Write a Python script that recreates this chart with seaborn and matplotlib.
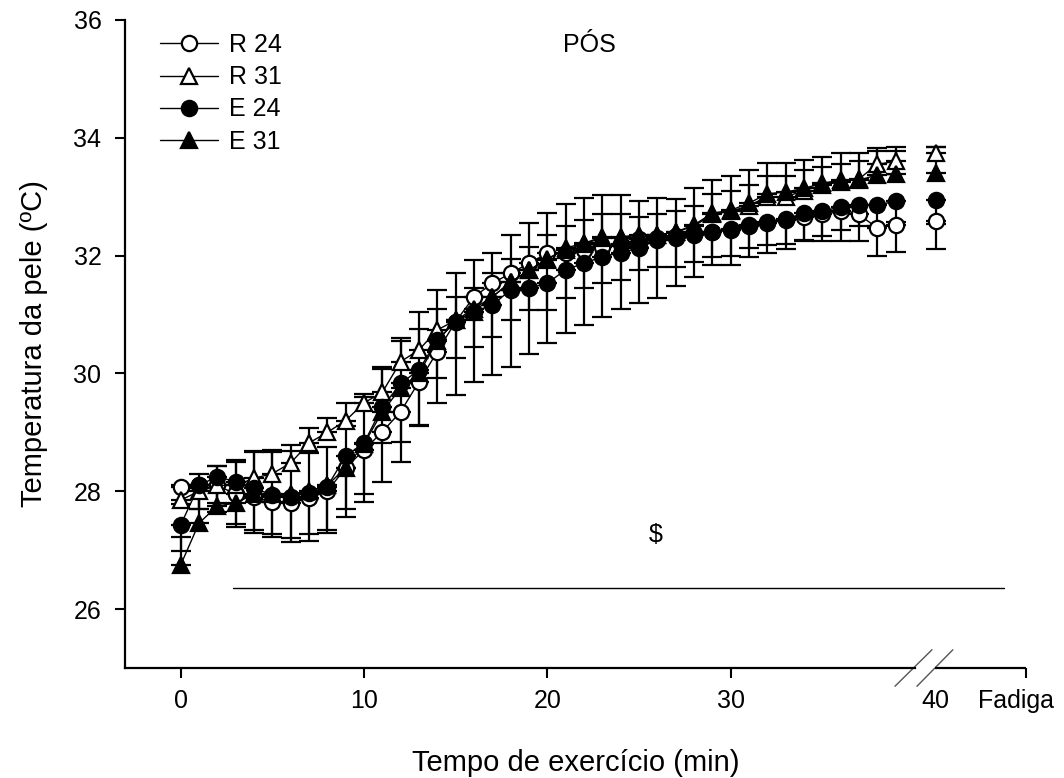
import numpy as np
import pandas as pd
import matplotlib
matplotlib.use("Agg")
import matplotlib.pyplot as plt
import matplotlib.transforms as mtransforms
import seaborn as sns

# ---------------- data ----------------
minutes = list(range(40))

r24 = [28.08, 28.10, 28.10, 27.95, 27.90, 27.82, 27.80, 27.88, 28.00, 28.40,
       28.70, 29.01, 29.35, 29.86, 30.37, 30.88, 31.30, 31.53, 31.70, 31.87,
       32.04, 32.05, 32.10, 32.15, 32.20, 32.28, 32.30, 32.33, 32.38, 32.40,
       32.45, 32.50, 32.55, 32.60, 32.65, 32.70, 32.75, 32.70, 32.47, 32.52]
r24_err_down = [0.30, 0.40, 0.45, 0.50, 0.55, 0.55, 0.60, 0.60, 0.65, 0.70,
                0.75, 0.85, 0.85, 0.75, 0.45, 0.62, 0.85, 0.91, 0.79, 0.79,
                0.96, 0.77, 0.65, 0.62, 0.62, 0.52, 0.50, 0.52, 0.48, 0.42,
                0.45, 0.37, 0.37, 0.40, 0.40, 0.45, 0.50, 0.45, 0.48, 0.46]

r31 = [27.85, 28.00, 28.10, 28.10, 28.22, 28.30, 28.48, 28.82, 29.00, 29.20,
       29.50, 29.68, 30.20, 30.40, 30.74, 30.90, 31.05, 31.30, 31.55, 31.75,
       31.95, 32.10, 32.20, 32.30, 32.30, 32.30, 32.35, 32.40, 32.50, 32.70,
       32.75, 32.85, 33.00, 33.00, 33.10, 33.20, 33.25, 33.30, 33.55, 33.60]
r31_err_up = [0.25, 0.30, 0.33, 0.40, 0.45, 0.40, 0.30, 0.25, 0.25, 0.30,
              0.15, 0.40, 0.35, 0.35, 0.35, 0.40, 0.40, 0.40, 0.40, 0.40,
              0.40, 0.40, 0.40, 0.40, 0.40, 0.35, 0.35, 0.35, 0.35, 0.35,
              0.35, 0.35, 0.35, 0.35, 0.35, 0.30, 0.30, 0.30, 0.28, 0.25]

e24 = [27.43, 28.10, 28.25, 28.16, 28.05, 27.94, 27.91, 27.97, 28.08, 28.60,
       28.82, 29.43, 29.83, 30.06, 30.57, 30.88, 31.05, 31.16, 31.42, 31.45,
       31.53, 31.76, 31.87, 31.98, 32.05, 32.13, 32.27, 32.30, 32.35, 32.40,
       32.43, 32.52, 32.57, 32.62, 32.72, 32.75, 32.83, 32.86, 32.86, 32.92]
e24_err_down = [0.45, 0.40, 0.45, 0.76, 0.76, 0.71, 0.77, 0.81, 0.79, 1.03,
                1.00, 0.61, 1.00, 0.94, 1.08, 1.25, 1.19, 1.19, 1.31, 1.12,
                1.02, 1.07, 1.05, 1.02, 0.95, 0.94, 0.99, 0.82, 0.71, 0.56,
                0.59, 0.54, 0.53, 0.50, 0.45, 0.42, 0.40, 0.35, 0.35, 0.35]

e31 = [26.75, 27.46, 27.75, 27.80, 27.95, 27.95, 27.95, 28.00, 28.10, 28.40,
       28.80, 29.35, 29.75, 30.00, 30.55, 30.90, 31.10, 31.30, 31.55, 31.75,
       31.93, 32.13, 32.21, 32.32, 32.32, 32.35, 32.35, 32.40, 32.52, 32.72,
       32.77, 32.89, 33.05, 33.08, 33.14, 33.23, 33.28, 33.28, 33.37, 33.38]
e31_err_up = [0.47, 0.60, 0.68, 0.73, 0.74, 0.72, 0.74, 0.65, 0.65, 0.70,
              0.80, 0.76, 0.85, 1.05, 0.87, 0.80, 0.83, 0.74, 0.80, 0.80,
              0.79, 0.75, 0.77, 0.71, 0.71, 0.57, 0.63, 0.56, 0.63, 0.56,
              0.58, 0.56, 0.52, 0.49, 0.48, 0.44, 0.46, 0.46, 0.40, 0.40]

# fatigue values ("Fadiga" group plotted at the 40 label)
fat_r24, fat_r24_err = 32.59, 0.48
fat_r31, fat_r31_err = 33.74, 0.10
fat_e24, fat_e24_err = 32.94, 0.40
fat_e31, fat_e31_err = 33.40, 0.45

series_names = ["R 24", "R 31", "E 24", "E 31"]
xtick_labels = ["0", "10", "20", "30", "40", "Fadiga"]
ytick_values = [26, 28, 30, 32, 34, 36]

# ---------------- layout / style ----------------
FAT_X = 41.2      # position of the fatigue points (after the axis break)
END_X = 46.12     # right end of the axis ("Fadiga" tick)
X_LEFT = -3.04

sns.set_theme(style="ticks")
plt.rcParams["font.family"] = ["Liberation Sans", "DejaVu Sans"]
plt.rcParams["text.color"] = "black"
plt.rcParams["axes.labelcolor"] = "black"

W, H = 1064, 778
fig = plt.figure(figsize=(W / 100, H / 100), dpi=100)
ax = fig.add_axes([125 / W, 1 - 668 / H, (1026 - 125) / W, (668 - 20) / H])

styles = {
    "R 24": dict(marker="o", mfc="white", ms=11),
    "R 31": dict(marker="^", mfc="white", ms=12),
    "E 24": dict(marker="o", mfc="black", ms=11),
    "E 31": dict(marker="^", mfc="black", ms=12),
}
errs = {"R 24": (r24_err_down, "down"), "R 31": (r31_err_up, "up"),
        "E 24": (e24_err_down, "down"), "E 31": (e31_err_up, "up")}
fats = {"R 24": (fat_r24, fat_r24_err), "R 31": (fat_r31, fat_r31_err),
        "E 24": (fat_e24, fat_e24_err), "E 31": (fat_e31, fat_e31_err)}

df = pd.DataFrame({"minute": minutes * 4,
                   "temp": r24 + r31 + e24 + e31,
                   "group": sum([[n] * len(minutes) for n in series_names], [])})

handles = []
for i, name in enumerate(series_names):
    st = styles[name]
    sub = df[df["group"] == name]
    err, direction = errs[name]
    zero = np.zeros(len(err))
    yerr = [err, zero] if direction == "down" else [zero, err]
    ax.errorbar(sub["minute"], sub["temp"], yerr=yerr, fmt="none", ecolor="black",
                elinewidth=1.6, capsize=7, capthick=1.6, zorder=2 + i * 0.1)
    fv, fe = fats[name]
    fyerr = [[fe], [0]] if direction == "down" else [[0], [fe]]
    ax.errorbar([FAT_X], [fv], yerr=fyerr, fmt="none", ecolor="black",
                elinewidth=1.6, capsize=7, capthick=1.6, zorder=2 + i * 0.1)

    sns.lineplot(data=sub, x="minute", y="temp", ax=ax, color="black",
                 linewidth=1.0, marker=st["marker"], markersize=st["ms"],
                 markerfacecolor=st["mfc"], markeredgecolor="black",
                 markeredgewidth=1.6, label=name, zorder=4 + i, legend=False)
    handles.append(ax.lines[-1])
    fat_df = pd.DataFrame({"minute": [FAT_X], "temp": [fv]})
    sns.lineplot(data=fat_df, x="minute", y="temp", ax=ax, color="black",
                 marker=st["marker"], markersize=st["ms"],
                 markerfacecolor=st["mfc"], markeredgecolor="black",
                 markeredgewidth=1.6, zorder=4 + i, legend=False)

# axes
ax.set_xlim(X_LEFT, END_X)
ax.set_ylim(25, 36)
ax.set_yticks(ytick_values)
ax.set_yticklabels([str(v) for v in ytick_values])
ax.set_xticks([0, 10, 20, 30, FAT_X, END_X])
ax.set_xticklabels(xtick_labels)
ax.tick_params(axis="both", direction="out", length=7, width=1.5,
               labelsize=18, colors="black")
ax.tick_params(axis="x", pad=8)
ax.tick_params(axis="y", pad=10)
ax.xaxis.get_major_ticks()[4].tick1line.set_visible(False)
fad_lab = ax.get_xticklabels()[5]
fad_lab.set_transform(fad_lab.get_transform() +
                      mtransforms.ScaledTranslation(-10 / 100, 0, fig.dpi_scale_trans))

for s in ["top", "right"]:
    ax.spines[s].set_visible(False)
for s in ["left", "bottom"]:
    ax.spines[s].set_linewidth(1.6)
    ax.spines[s].set_color("black")
ax.spines["bottom"].set_bounds(X_LEFT, 40.06)
ax.plot([41.15, END_X], [25, 25], color="black", lw=1.6, clip_on=False,
        solid_capstyle="butt", zorder=5)
# axis break marks
ax.plot([38.97, 40.99], [24.69, 25.31], color="#555555", lw=1.0, clip_on=False)
ax.plot([40.17, 42.13], [24.69, 25.31], color="#555555", lw=1.0, clip_on=False)

ax.set_xlabel("Tempo de exercício (min)", fontsize=21, labelpad=26)
ax.set_ylabel("Temperatura da pele (ºC)", fontsize=21, labelpad=18)

# annotations
ax.text(22.3, 35.58, "PÓS", ha="center", va="center", fontsize=18)
ax.plot([2.85, 44.9], [26.36, 26.36], color="black", lw=1.0, clip_on=False)
ax.text(25.9, 27.26, "$", ha="center", va="center", fontsize=18)

leg = ax.legend(handles=handles, labels=series_names, loc="upper left",
                bbox_to_anchor=(160 / W, 1 - 33 / H),
                bbox_transform=fig.transFigure, frameon=False, fontsize=18,
                handlelength=2.3, handletextpad=0.45, labelspacing=0.33,
                borderpad=0, borderaxespad=0)

fig.savefig("out.png", dpi=100, facecolor="white")
